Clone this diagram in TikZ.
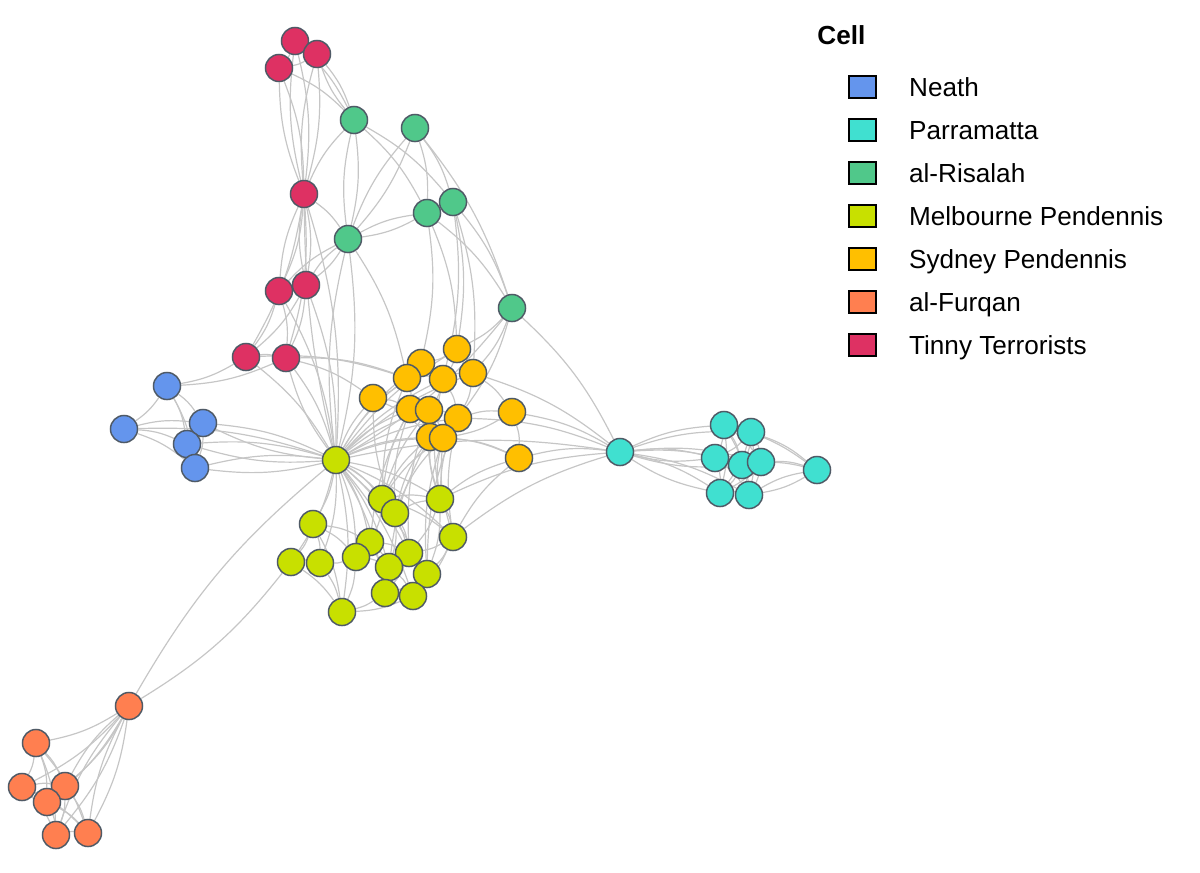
\documentclass[tikz,border=0pt]{standalone}
\usepackage{fontspec}
\setmainfont{Liberation Sans}
\usepackage{tikz}
\usetikzlibrary{automata,positioning,backgrounds}
\usetikzlibrary{arrows}

\definecolor{neath}{HTML}{6495ED}
\definecolor{parra}{HTML}{40E0D0}
\definecolor{risalah}{HTML}{50C88A}
\definecolor{melb}{HTML}{C8E000}
\definecolor{sydney}{HTML}{FFBF00}
\definecolor{furqan}{HTML}{FF7F50}
\definecolor{tinny}{HTML}{DE3163}
\definecolor{vborder}{HTML}{4F5A66}
\definecolor{edgegray}{HTML}{C6C6C6}

\begin{document}
\begin{tikzpicture}[x=0.75pt,y=-0.75pt,node distance=14.65pt and 24pt,
                    semithick]
\tikzstyle{every state}=[fill=none,draw=vborder,text=black,line width=1.1pt,
                         inner sep=0pt,minimum size=20.3pt]
\tikzstyle{swatch}=[draw=black,line width=1.1pt,minimum width=20.25pt,
                    minimum height=16.5pt,inner sep=0pt]
\tikzstyle{entry}=[inner sep=0pt,text height=14pt,text depth=0pt]
\tikzset{font=\fontsize{19.6pt}{23pt}\selectfont}
\tikzset{every edge/.style={draw=edgegray,line width=0.9pt,bend left=10}}

\useasboundingbox (0,0) rectangle (1200,872);

        % Tinny Terrorists
        \node[state, fill=tinny]  (t1) at (295,41)  {};
        \node[state, fill=tinny]  (t2) at (317,54)  {};
        \node[state, fill=tinny]  (t3) at (279,68)  {};
        \node[state, fill=tinny]  (t4) at (304,194) {};
        \node[state, fill=tinny]  (t5) at (279,291) {};
        \node[state, fill=tinny]  (t6) at (306,285) {};
        \node[state, fill=tinny]  (t7) at (246,357) {};
        \node[state, fill=tinny]  (t8) at (286,358) {};

        % al-Risalah
        \node[state, fill=risalah] (r1) at (354,120) {};
        \node[state, fill=risalah] (r2) at (415,128) {};
        \node[state, fill=risalah] (r3) at (427,213) {};
        \node[state, fill=risalah] (r4) at (453,202) {};
        \node[state, fill=risalah] (r5) at (348,239) {};
        \node[state, fill=risalah] (r6) at (512,308) {};

        % Neath
        \node[state, fill=neath]  (n1) at (167,386) {};
        \node[state, fill=neath]  (n2) at (124,429) {};
        \node[state, fill=neath]  (n3) at (203,423) {};
        \node[state, fill=neath]  (n4) at (187,444) {};
        \node[state, fill=neath]  (n5) at (195,468) {};

        % Sydney Pendennis
        \node[state, fill=sydney] (s1)  at (457,349) {};
        \node[state, fill=sydney] (s2)  at (421,363) {};
        \node[state, fill=sydney] (s3)  at (407,378) {};
        \node[state, fill=sydney] (s4)  at (443,379) {};
        \node[state, fill=sydney] (s5)  at (473,373) {};
        \node[state, fill=sydney] (s6)  at (373,398) {};
        \node[state, fill=sydney] (s7)  at (410,409) {};
        \node[state, fill=sydney] (s8)  at (429,410) {};
        \node[state, fill=sydney] (s9)  at (458,418) {};
        \node[state, fill=sydney] (s10) at (512,412) {};
        \node[state, fill=sydney] (s11) at (430,437) {};
        \node[state, fill=sydney] (s12) at (443,438) {};
        \node[state, fill=sydney] (s13) at (519,458) {};

        % Melbourne Pendennis
        \node[state, fill=melb]   (m1)  at (336,460) {};
        \node[state, fill=melb]   (m2)  at (382,499) {};
        \node[state, fill=melb]   (m3)  at (395,513) {};
        \node[state, fill=melb]   (m4)  at (440,499) {};
        \node[state, fill=melb]   (m5)  at (313,524) {};
        \node[state, fill=melb]   (m6)  at (453,537) {};
        \node[state, fill=melb]   (m7)  at (370,542) {};
        \node[state, fill=melb]   (m8)  at (356,557) {};
        \node[state, fill=melb]   (m9)  at (291,562) {};
        \node[state, fill=melb]   (m10) at (320,563) {};
        \node[state, fill=melb]   (m11) at (409,553) {};
        \node[state, fill=melb]   (m12) at (389,567) {};
        \node[state, fill=melb]   (m13) at (427,574) {};
        \node[state, fill=melb]   (m14) at (385,593) {};
        \node[state, fill=melb]   (m15) at (413,596) {};
        \node[state, fill=melb]   (m16) at (342,612) {};

        % Parramatta
        \node[state, fill=parra]  (p1) at (620,452) {};
        \node[state, fill=parra]  (p2) at (724,425) {};
        \node[state, fill=parra]  (p3) at (751,432) {};
        \node[state, fill=parra]  (p4) at (715,458) {};
        \node[state, fill=parra]  (p5) at (742,465) {};
        \node[state, fill=parra]  (p6) at (761,462) {};
        \node[state, fill=parra]  (p7) at (720,493) {};
        \node[state, fill=parra]  (p8) at (749,495) {};
        \node[state, fill=parra]  (p9) at (817,470) {};

        % al-Furqan
        \node[state, fill=furqan] (f1) at (129,706) {};
        \node[state, fill=furqan] (f2) at (36,743)  {};
        \node[state, fill=furqan] (f3) at (22,787)  {};
        \node[state, fill=furqan] (f4) at (65,786)  {};
        \node[state, fill=furqan] (f5) at (47,802)  {};
        \node[state, fill=furqan] (f6) at (56,835)  {};
        \node[state, fill=furqan] (f7) at (88,833)  {};

        % legend
        \node[entry, anchor=west, font=\fontsize{19.6pt}{23pt}\selectfont\bfseries]
                                  (cell) at (817,35) {Cell};
        \node[swatch, fill=neath]  (kneath) at (862.5,87) {};
        \node[swatch, fill=parra]  (kparra)   [below=of kneath] {};
        \node[swatch, fill=risalah](krisalah) [below=of kparra] {};
        \node[swatch, fill=melb]   (kmelb)    [below=of krisalah] {};
        \node[swatch, fill=sydney] (ksydney)  [below=of kmelb] {};
        \node[swatch, fill=furqan] (kfurqan)  [below=of ksydney] {};
        \node[swatch, fill=tinny]  (ktinny)   [below=of kfurqan] {};
        \node[entry] (lneath)   [right=of kneath]   {Neath};
        \node[entry] (lparra)   [right=of kparra]   {Parramatta};
        \node[entry] (lrisalah) [right=of krisalah] {al-Risalah};
        \node[entry] (lmelb)    [right=of kmelb]    {Melbourne Pendennis};
        \node[entry] (lsydney)  [right=of ksydney]  {Sydney Pendennis};
        \node[entry] (lfurqan)  [right=of kfurqan]  {al-Furqan};
        \node[entry] (ltinny)   [right=of ktinny]   {Tinny Terrorists};

        \begin{scope}[on background layer]
        \path
        % Tinny Terrorists
        (t1) edge (t2) edge (t3) edge (r1) edge (t4) edge[bend right=10] (t4)
        (t2) edge (t3) edge (r1) edge[bend right=10] (r1) edge (t4) edge[bend right=10] (t4)
        (t3) edge (r1) edge (t4) edge[bend right=10] (t4)
        (t4) edge (r1) edge (r5) edge (t5) edge[bend right=10] (t5) edge (t6)
             edge[bend right=10] (t6) edge (t7) edge (t8) edge (m1) edge[bend right=6] (m1)
        (t5) edge (t6) edge (t7) edge (t8) edge (r5) edge (m1)
        (t6) edge (t7) edge (t8) edge (r5) edge[bend right=10] (r5) edge (m1)
        (t7) edge (t8) edge (n1) edge (m1) edge (s3)
        (t8) edge (n1) edge (m1) edge[bend right=10] (m1) edge (s3) edge (s6)
        % al-Risalah
        (r1) edge (r3) edge (r4) edge (r5) edge[bend right=10] (r5)
        (r2) edge (r5) edge[bend right=10] (r5) edge (r3) edge (r4) edge (r6)
        (r3) edge (r4) edge (r5) edge[bend right=10] (r5) edge (r6) edge (s2) edge (s1)
        (r4) edge (r6) edge (s1) edge (s4) edge (s5)
        (r5) edge (m1) edge[bend right=10] (m1) edge (s3)
        (r6) edge (s1) edge (s5) edge (s9) edge (p1) edge (m1)
        % Neath
        (n1) edge (n2) edge (n3) edge (n4) edge (n5)
        (n2) edge (n3) edge (n4) edge (n5) edge (m1)
        (n3) edge (n4) edge (n5) edge (m1) edge[bend right=10] (m1)
        (n4) edge (n5) edge (m1) edge[bend right=10] (m1)
        (n5) edge (m1) edge[bend right=10] (m1)
        % Melbourne Pendennis
        (m1) edge (m2) edge (m3) edge (m4) edge (m5) edge (m6) edge (m7) edge (m8)
             edge (m9) edge (m10) edge (m11) edge (m12) edge (m13) edge (m14)
             edge (m15) edge (m16)
        (m1) edge (s1) edge (s2) edge (s3) edge (s4) edge (s5) edge (s6) edge (s7)
             edge (s8) edge (s9) edge (s11) edge (s12) edge (p1)
        (m2) edge (m3) edge (m4) edge (m6) edge (m7) edge (m11) edge (s7) edge (s8) edge (s3)
             edge (s11) edge (s12)
        (m3) edge (m4) edge (m11) edge (m12) edge (s11) edge (s12) edge (s6) edge (s7)
        (m4) edge (m6) edge (m11) edge (m13) edge (s11) edge (s12) edge (s9) edge (s4)
             edge (s8) edge (s13) edge (p1)
        (m5) edge (m7) edge (m8) edge (m9) edge (m10) edge (m16)
        (m6) edge (m11) edge (m13) edge (m15) edge (s9) edge (s12) edge (s13) edge (p1)
        (m7) edge (m8) edge (m11) edge (m12) edge (m14) edge (s7)
        (m8) edge (m10) edge (m16) edge (m12)
        (m9) edge (m10) edge (m16)
        (m10) edge (m16)
        (m11) edge (m12) edge (m13) edge (m14) edge (s8)
        (m12) edge (m14) edge (m15) edge (s11)
        (m13) edge (m14) edge (m15) edge (s12) edge (s9)
        (m14) edge (m15) edge (m16)
        (m15) edge (m16)
        % Sydney Pendennis
        (s1) edge (s2) edge (s4) edge (s5)
        (s2) edge (s3) edge (s4)
        (s3) edge (s4) edge (s6) edge (s7)
        (s4) edge (s5) edge (s8) edge (s9)
        (s5) edge (s9) edge (s10)
        (s6) edge (s7) edge (s11)
        (s7) edge (s8) edge (s11)
        (s8) edge (s9) edge (s12)
        (s9) edge (s10) edge (s12)
        (s10) edge (s12) edge (s13) edge (p1)
        (s11) edge (s12) edge (s13)
        (s12) edge (s13)
        (s13) edge (p1)
        (s9) edge (p1)
        (s5) edge (p1)
        % Parramatta
        (p1) edge (p2) edge (p3) edge (p4) edge[bend right=10] (p4) edge (p5)
             edge[bend right=10] (p5) edge (p6) edge (p7) edge[bend right=10] (p7) edge (p8)
        (p2) edge (p3) edge (p4) edge (p5) edge (p6) edge (p7) edge (p8) edge (p9)
        (p3) edge (p4) edge (p5) edge (p6) edge (p7) edge (p8) edge (p9)
        (p4) edge (p5) edge (p6) edge (p7) edge (p8)
        (p5) edge (p6) edge (p7) edge (p8) edge (p9)
        (p6) edge (p7) edge (p8) edge (p9)
        (p7) edge (p8)
        (p8) edge (p9) edge[bend right=10] (p9)
        % al-Furqan
        (f1) edge (m1) edge[bend right=10] (m9)
        (f1) edge (f2) edge (f3) edge (f4) edge (f5) edge (f6) edge (f7)
             edge[bend right=10] (f4) edge[bend right=10] (f6) edge[bend right=10] (f7)
        (f2) edge (f3) edge (f4) edge (f5) edge (f6) edge (f7)
        (f3) edge (f4) edge (f5) edge (f6) edge (f7)
        (f4) edge (f5) edge (f6) edge (f7)
        (f5) edge (f6) edge (f7)
        (f6) edge (f7)
        ; %end path
        \end{scope}

\end{tikzpicture}
\end{document}
